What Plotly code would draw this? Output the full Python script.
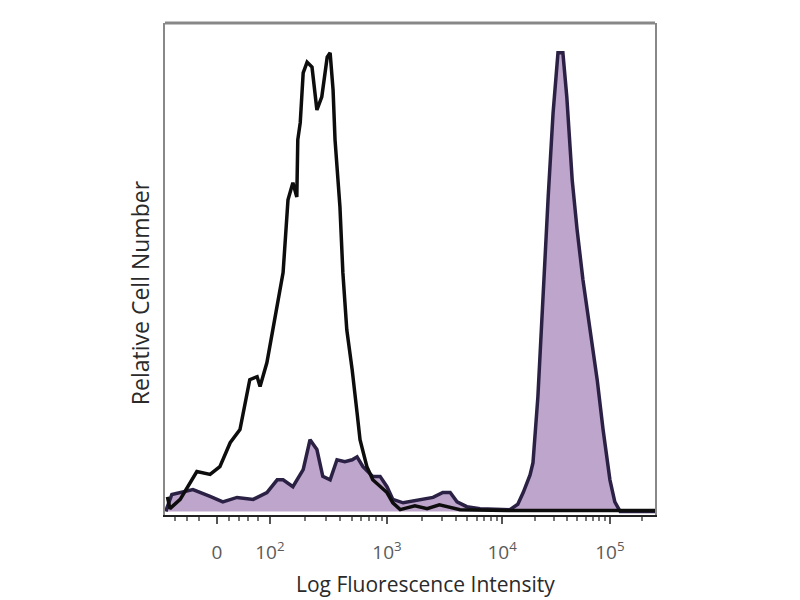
import numpy as np
import plotly.graph_objects as go

# Channel scale (0-1000) positions of the decade labels on the biexponential axis
tick_labels = ["0", "10<sup>2</sup>", "10<sup>3</sup>", "10<sup>4</sup>", "10<sup>5</sup>"]
tick_pos = [106, 214, 453, 688, 908]

# Isotype control (open black histogram)
ctrl_x = [5, 10, 31, 65, 92, 112, 133, 153, 173, 188, 194, 208, 220, 235, 241, 251, 261, 269, 271,
          276, 282, 290, 300, 310, 320, 331, 337, 343, 347, 357, 363, 371, 382, 392, 398, 412, 424,
          453, 465, 480, 510, 535, 560, 602, 650, 700, 800, 900, 1000]
ctrl_y = [3.0, 0.6, 2.5, 8.2, 7.6, 9.2, 14.1, 16.8, 27.0, 27.6, 25.6, 30.5, 37.2, 46.0, 48.9, 63.8,
          67.3, 64.4, 76.1, 79.6, 89.8, 92.0, 91.0, 82.2, 84.9, 93.0, 93.9, 86.3, 76.1, 62.4, 48.9,
          37.2, 29.0, 20.2, 14.7, 9.2, 6.5, 3.9, 1.8, 0.4, 1.2, 0.6, 1.4, 0.4, 0.3, 0.2, 0.2, 0.2, 0.2]

# Stained sample (filled purple histogram)
stain_x = [2, 4, 14, 31, 57, 92, 118, 147, 180, 208, 229, 241, 261, 282, 296, 310, 322, 337, 351,
           367, 382, 392, 404, 424, 439, 453, 465, 486, 520, 547, 567, 582, 596, 616, 643, 684, 704,
           720, 731, 745, 751, 761, 771, 782, 792, 802, 812, 820, 831, 841, 853, 867, 882, 894, 908,
           918, 929, 1000]
stain_y = [0.0, 0.8, 3.5, 3.9, 4.5, 3.1, 2.0, 2.9, 2.5, 3.9, 6.5, 6.5, 5.1, 8.6, 14.7, 12.7, 7.2,
           6.5, 10.6, 10.2, 10.6, 11.2, 9.2, 7.2, 7.2, 5.1, 2.5, 1.8, 2.5, 2.9, 3.9, 3.9, 2.0, 1.0,
           0.6, 0.4, 0.4, 1.5, 3.9, 7.5, 10.0, 23.5, 44.0, 64.4, 81.6, 93.9, 93.9, 84.9, 67.9, 57.7,
           47.4, 37.2, 27.0, 16.8, 6.5, 2.0, 0.0, 0.0]

# minor ticks between decades (log-spaced within each decade)
minor = []
for a, b in zip(tick_pos[1:-1], tick_pos[2:]):
    for m in range(2, 10):
        minor.append(a + np.log10(m) * (b - a))
for m in range(2, 10):
    v = tick_pos[-1] + np.log10(m) * (tick_pos[-1] - tick_pos[-2])
    if v < 1000:
        minor.append(v)
minor += [20, 45, 70, 130, 150, 170, 190]

fig = go.Figure()
fig.add_trace(go.Scatter(x=stain_x, y=stain_y, mode="lines", fill="tozeroy",
                         fillcolor="rgba(186,160,200,0.95)",
                         line=dict(color="#2b2145", width=3.5), hoverinfo="skip"))
fig.add_trace(go.Scatter(x=ctrl_x, y=ctrl_y, mode="lines",
                         line=dict(color="#0d0d0d", width=3.5), hoverinfo="skip"))

fig.update_layout(
    width=792, height=592,
    margin=dict(l=157, r=145, t=15, b=85),
    paper_bgcolor="white", plot_bgcolor="white",
    showlegend=False,
    font=dict(family="Open Sans, Noto Sans, sans-serif", color="#333"),
    xaxis=dict(range=[0, 1000], tickmode="array", tickvals=tick_pos, ticktext=tick_labels,
               showgrid=False, zeroline=False, showline=True, linecolor="#222", linewidth=2,
               ticks="outside", ticklen=7, tickwidth=1.5, tickcolor="#555",
               ticklabelstandoff=12,
               tickfont=dict(size=19, color="#5a5a5a"),
               minor=dict(tickvals=minor, ticks="outside", ticklen=4, tickcolor="#777")),
    yaxis=dict(range=[-0.7, 100], showticklabels=False, showgrid=False, zeroline=False,
               showline=True, linecolor="#888", linewidth=2, mirror=True, ticks=""),
    shapes=[dict(type="line", xref="paper", yref="paper", x0=0, x1=1, y0=1, y1=1,
                 line=dict(color="#888", width=3))],
    annotations=[
        dict(text="Log Fluorescence Intensity", xref="paper", yref="paper", x=0.531, y=-0.141,
             xanchor="center", yanchor="middle", showarrow=False,
             font=dict(size=21, color="#2a2a2a")),
        dict(text="Relative Cell Number", xref="paper", yref="paper", x=-0.052, y=0.452,
             xanchor="center", yanchor="middle", textangle=-90, showarrow=False,
             font=dict(size=23, color="#2a2a2a")),
    ],
)

fig.write_html("out.html")
